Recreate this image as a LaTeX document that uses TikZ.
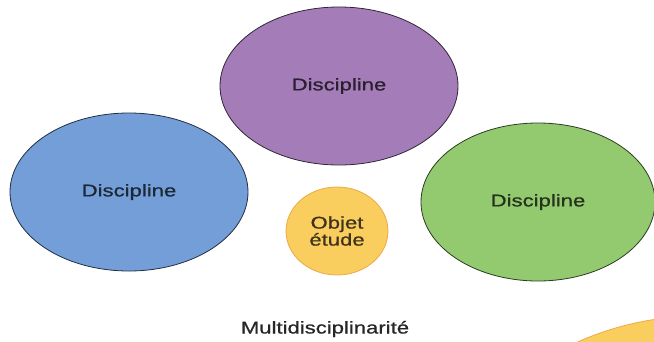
\documentclass[tikz,border=0pt]{standalone}
\usepackage{fontspec}
\newfontfamily\labelfont[FakeStretch=1.3,FakeBold=0.8]{Liberation Sans}
\usepackage{xcolor}
\usepackage{tikz}
\usetikzlibrary{shapes.geometric}

\definecolor{purpleFill}{RGB}{164,125,184}
\definecolor{blueFill}{RGB}{115,158,216}
\definecolor{greenFill}{RGB}{147,201,111}
\definecolor{yellowFill}{RGB}{250,205,95}
\definecolor{yellowEdge}{RGB}{236,170,70}

\begin{document}
\begin{tikzpicture}[x=1pt, y=-1pt,
    every node/.style={font=\labelfont\fontsize{17}{17}\selectfont},
    disc/.style={ellipse, draw, line width=0.8pt, inner sep=0pt,
                 minimum width=238pt, minimum height=158pt}]
    \useasboundingbox (0,0) rectangle (654,341);
    \clip (0,0) rectangle (654,341);
        % outer circle, only a corner shows
        \node[circle, fill=yellowFill, draw=yellowEdge, line width=0.8pt,
              minimum size=600pt] (big) at (700,616) {};
        \node[disc, fill=purpleFill, draw=black!70!purpleFill,
              text=black!75!purpleFill] (discTop) at (339,86) {Discipline};
        \node[disc, fill=blueFill, draw=black!70!blueFill,
              text=black!75!blueFill] (discLeft) at (129,192) {Discipline};
        \node[disc, fill=greenFill, draw=black!70!greenFill,
              text=black!75!greenFill, minimum width=234pt] (discRight) at (538,202) {Discipline};
        \node[ellipse, fill=yellowFill, draw=yellowEdge, line width=0.8pt, inner sep=0pt,
              minimum width=102pt, minimum height=88pt, align=center,
              text=black!75!yellowFill] (objet) at (337,231) {Objet\\étude};
        \node[text=black!85] (title) at (325,329) {Multidisciplinarité};
\end{tikzpicture}
\end{document}
